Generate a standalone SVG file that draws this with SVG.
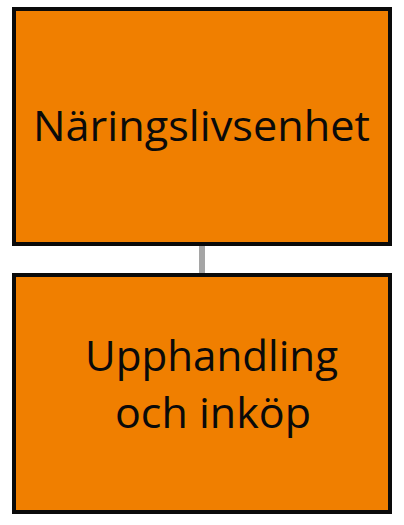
<svg xmlns="http://www.w3.org/2000/svg" width="404" height="525" viewBox="0 0 404 525">
<style>
.box{fill:#F07F00;stroke:#0A0A0A;stroke-width:4}
.lbl{font-family:"Open Sans","Noto Sans",sans-serif;font-size:41.5px;fill:#0A0A0A;text-anchor:middle}
.conn{stroke:#A5A5A5;stroke-width:6;fill:none}
</style>
<rect width="404" height="525" fill="#FFFFFF"/>
<g id="connectors">
<line class="conn" x1="202" y1="245" x2="202" y2="274"/>
</g>
<g id="node-naringslivsenhet">
<rect class="box" x="14" y="9" width="376" height="235"/>
<text class="lbl" x="201.5" y="141" textLength="337" lengthAdjust="spacingAndGlyphs">Näringslivsenhet</text>
</g>
<g id="node-upphandling">
<rect class="box" x="14" y="275" width="376" height="237"/>
<text class="lbl" x="211.5" y="371" textLength="253" lengthAdjust="spacingAndGlyphs">Upphandling</text>
<text class="lbl" x="213" y="428" textLength="196" lengthAdjust="spacingAndGlyphs">och inköp</text>
</g>
</svg>
